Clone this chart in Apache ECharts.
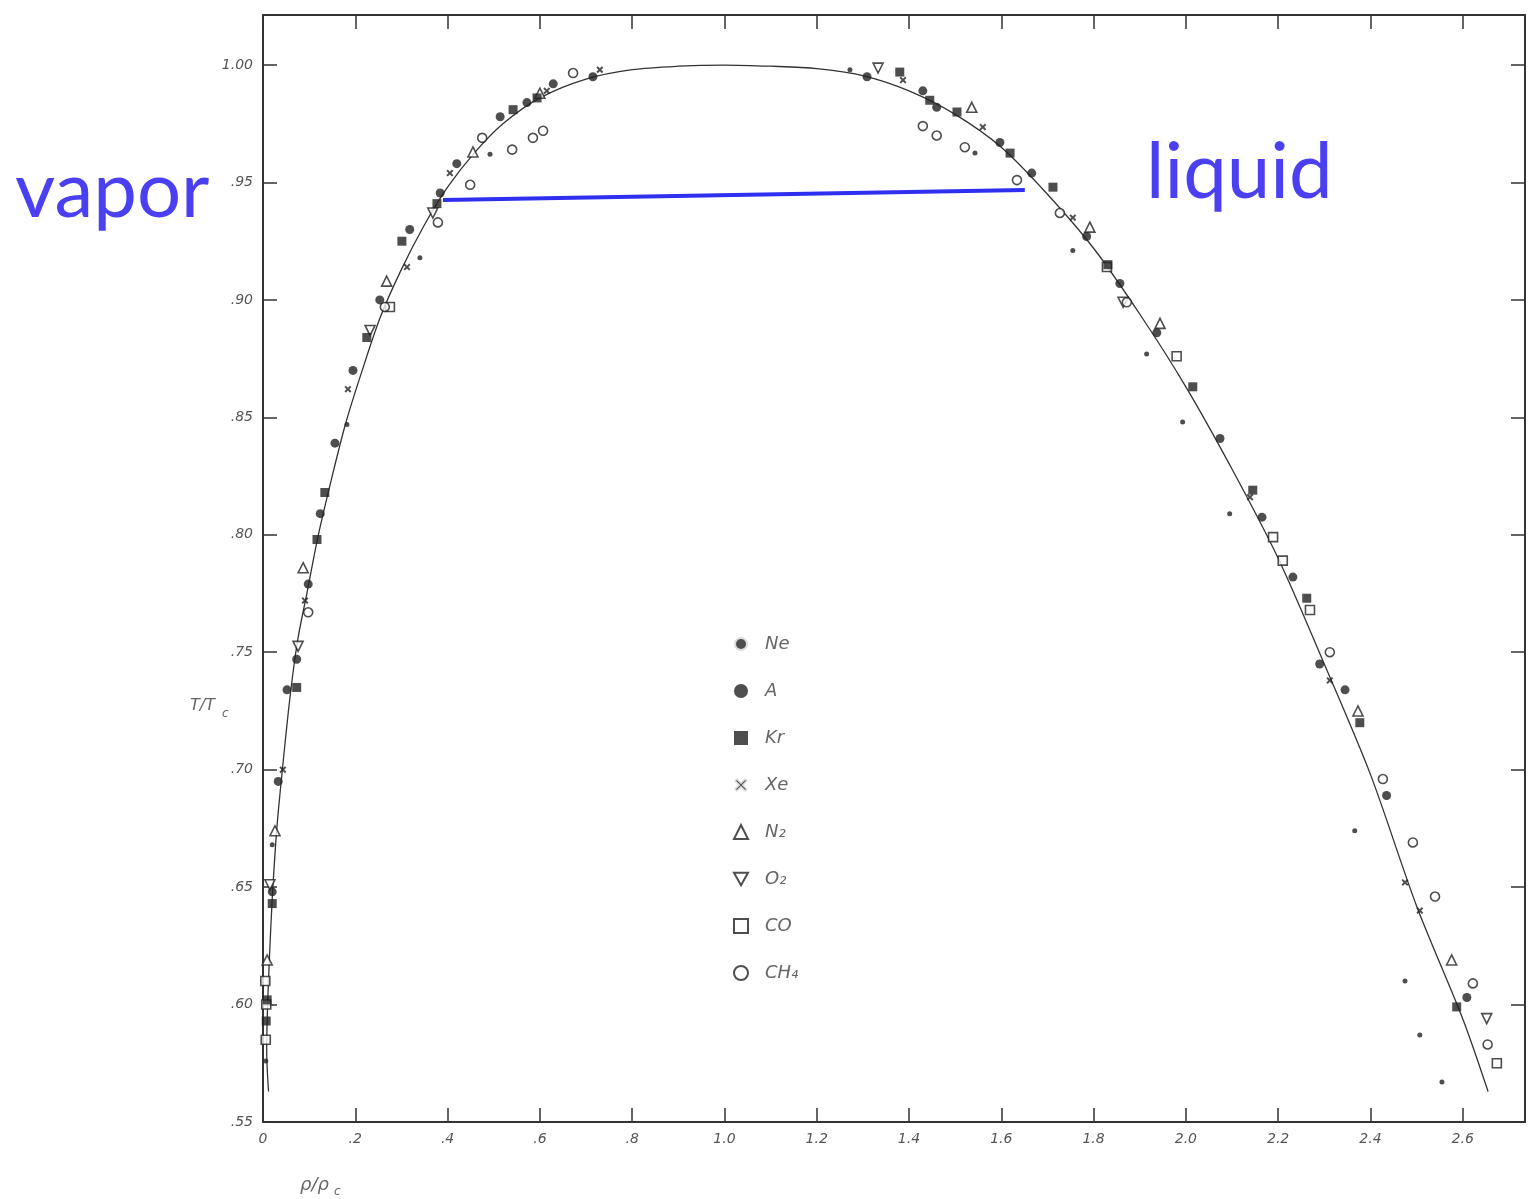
<!DOCTYPE html>
<html>
<head>
<meta charset="utf-8">
<script src="https://cdn.jsdelivr.net/npm/echarts@6/dist/echarts.min.js"></script>
<style>
  html, body { margin: 0; padding: 0; background: #fff; }
  #chart-box { width: 1529px; height: 1199px; }
</style>
</head>
<body>
<div id="chart-box"></div>
<script>
// tick labels as printed on the figure
const xTickValues = [0, 0.2, 0.4, 0.6, 0.8, 1.0, 1.2, 1.4, 1.6, 1.8, 2.0, 2.2, 2.4, 2.6];
const xTickLabels = ['0', '.2', '.4', '.6', '.8', '1.0', '1.2', '1.4', '1.6', '1.8', '2.0', '2.2', '2.4', '2.6'];
const yTickValues = [0.55, 0.60, 0.65, 0.70, 0.75, 0.80, 0.85, 0.90, 0.95, 1.00];
const yTickLabels = ['.55', '.60', '.65', '.70', '.75', '.80', '.85', '.90', '.95', '1.00'];

// legend names
const species = ['Ne', 'A', 'Kr', 'Xe', 'N₂', 'O₂', 'CO', 'CH₄'];

// measured points [rho/rho_c, T/T_c]
const neData = [[0.006, 0.576], [0.02, 0.668], [0.182, 0.847], [0.34, 0.918], [0.492, 0.962], [1.272, 0.998],
  [1.543, 0.9625], [1.755, 0.921], [1.915, 0.877], [1.993, 0.848], [2.095, 0.809], [2.366, 0.674],
  [2.475, 0.61], [2.507, 0.587], [2.555, 0.567]];
const arData = [[0.02, 0.648], [0.033, 0.695], [0.052, 0.734], [0.073, 0.747], [0.098, 0.779], [0.124, 0.809],
  [0.156, 0.839], [0.195, 0.870], [0.253, 0.900], [0.318, 0.93], [0.384, 0.9455], [0.42, 0.958],
  [0.514, 0.978], [0.572, 0.984], [0.629, 0.992], [0.715, 0.995], [1.309, 0.995], [1.43, 0.989],
  [1.46, 0.982], [1.597, 0.967], [1.666, 0.954], [1.785, 0.927], [1.857, 0.907], [1.937, 0.886],
  [2.074, 0.841], [2.165, 0.8075], [2.232, 0.782], [2.29, 0.745], [2.345, 0.734], [2.435, 0.689], [2.609, 0.603]];
const krData = [[0.007, 0.593], [0.009, 0.602], [0.02, 0.643], [0.073, 0.735], [0.117, 0.798], [0.134, 0.818],
  [0.225, 0.884], [0.301, 0.925], [0.377, 0.941], [0.542, 0.981], [0.594, 0.986], [1.38, 0.997],
  [1.445, 0.985], [1.504, 0.98], [1.619, 0.9625], [1.712, 0.948], [1.831, 0.915], [2.015, 0.863],
  [2.145, 0.819], [2.262, 0.773], [2.377, 0.72], [2.587, 0.599]];
const xeData = [[0.043, 0.70], [0.091, 0.772], [0.184, 0.862], [0.312, 0.914], [0.405, 0.954], [0.615, 0.989],
  [0.73, 0.998], [1.387, 0.9936], [1.56, 0.9736], [1.755, 0.935], [2.139, 0.816], [2.312, 0.738],
  [2.475, 0.652], [2.507, 0.64]];
const n2Data = [[0.009, 0.619], [0.026, 0.674], [0.087, 0.786], [0.268, 0.908], [0.455, 0.963], [0.60, 0.988],
  [1.536, 0.982], [1.792, 0.931], [1.944, 0.89], [2.373, 0.725], [2.576, 0.619]];
const o2Data = [[0.015, 0.651], [0.076, 0.7525], [0.232, 0.887], [0.368, 0.937], [1.333, 0.9987],
  [1.864, 0.899], [2.652, 0.594]];
const coData = [[0.005, 0.61], [0.006, 0.585], [0.007, 0.60], [0.275, 0.897], [1.829, 0.914], [1.98, 0.876],
  [2.189, 0.799], [2.21, 0.789], [2.269, 0.768], [2.674, 0.575]];
const ch4Data = [[0.098, 0.767], [0.264, 0.897], [0.379, 0.933], [0.449, 0.949], [0.475, 0.969], [0.54, 0.964],
  [0.585, 0.969], [0.607, 0.972], [0.672, 0.9966], [1.43, 0.974], [1.46, 0.97], [1.521, 0.965],
  [1.634, 0.951], [1.727, 0.937], [1.872, 0.899], [2.312, 0.75], [2.427, 0.696], [2.492, 0.669],
  [2.54, 0.646], [2.622, 0.609], [2.654, 0.583]];

// coexistence curve as drawn
const curveData = [[0.012, 0.563], [0.008, 0.58], [0.01, 0.60], [0.014, 0.62], [0.02, 0.645], [0.03, 0.675],
  [0.042, 0.70], [0.058, 0.73], [0.075, 0.755], [0.095, 0.775], [0.12, 0.80], [0.15, 0.825],
  [0.18, 0.848], [0.215, 0.87], [0.255, 0.893], [0.3, 0.913], [0.35, 0.932], [0.4, 0.948],
  [0.46, 0.963], [0.52, 0.975], [0.6, 0.986], [0.7, 0.994], [0.8, 0.998], [0.9, 0.9995], [1.0, 1.0],
  [1.1, 0.9995], [1.2, 0.9985], [1.3, 0.9955], [1.4, 0.989], [1.5, 0.979], [1.6, 0.965], [1.7, 0.945],
  [1.8, 0.922], [1.9, 0.894], [2.0, 0.863], [2.1, 0.828], [2.2, 0.79], [2.3, 0.745], [2.4, 0.698],
  [2.5, 0.642], [2.6, 0.594], [2.655, 0.563]];

// blue tie line (added annotation)
const tieLine = [[0.39, 0.9425], [1.651, 0.9468]];

const ink = '#222';
const labelFont = { color: '#555', fontStyle: 'italic', fontSize: 14, fontFamily: 'DejaVu Sans' };
const downTriangle = 'path://M0,0L10,0L5,9Z';
const crossPath = 'path://M2,0L5,3L8,0L10,2L7,5L10,8L8,10L5,7L2,10L0,8L3,5L0,2Z';

function tickFormatter(values, labels) {
  return function (v) {
    for (let i = 0; i < values.length; i++) {
      if (Math.abs(values[i] - v) < 1e-6) return labels[i];
    }
    return '';
  };
}

let chartDom = document.getElementById('chart-box');
var chart = echarts.init(chartDom);

const baseAxis = {
  axisLine: { show: true, onZero: false, lineStyle: { color: '#333', width: 2 } },
  axisTick: { show: true, inside: true, length: 14, lineStyle: { color: '#333', width: 1.5 } },
  splitLine: { show: false }
};

const openStyle = { color: '#fff', borderColor: ink, borderWidth: 1.6 };
const filledStyle = { color: ink };

// legend entries: small marks get a white border so they look smaller
const legendData = species.map(function (name) {
  if (name === 'Ne') return { name: name, itemStyle: { color: ink, borderColor: '#fff', borderWidth: 4 } };
  if (name === 'Xe') return { name: name, itemStyle: { color: ink, borderColor: '#fff', borderWidth: 3 } };
  if (name === 'O₂') return { name: name, icon: downTriangle };
  return { name: name };
});

let option = {
  animation: false,
  backgroundColor: '#fff',
  grid: { left: 263, right: 4, top: 15, bottom: 77 },
  legend: {
    orient: 'vertical',
    left: 727,
    top: 630,
    itemGap: 29,
    itemWidth: 14,
    itemHeight: 14,
    data: legendData,
    textStyle: { color: '#666', fontStyle: 'italic', fontSize: 18, fontFamily: 'DejaVu Sans', padding: [0, 0, 0, 12] }
  },
  xAxis: [
    Object.assign({}, baseAxis, {
      type: 'value', min: 0, max: 2.735, interval: 0.2, position: 'bottom',
      axisLabel: Object.assign({ margin: 10, showMaxLabel: false, formatter: tickFormatter(xTickValues, xTickLabels) }, labelFont)
    }),
    Object.assign({}, baseAxis, {
      type: 'value', min: 0, max: 2.735, interval: 0.2, position: 'top',
      axisLabel: { show: false }
    })
  ],
  yAxis: [
    Object.assign({}, baseAxis, {
      type: 'value', min: 0.55, max: 1.0213, interval: 0.05, position: 'left',
      axisLabel: Object.assign({ margin: 10, showMaxLabel: false, formatter: tickFormatter(yTickValues, yTickLabels) }, labelFont)
    }),
    Object.assign({}, baseAxis, {
      type: 'value', min: 0.55, max: 1.0213, interval: 0.05, position: 'right',
      axisLabel: { show: false }
    })
  ],
  graphic: [
    { type: 'text', left: 15, top: 153, style: { text: 'vapor', font: '78px Lato', fill: '#4b3ff2' } },
    { type: 'text', left: 1146, top: 134, style: { text: 'liquid', font: '78px Lato', fill: '#4b3ff2' } },
    { type: 'text', left: 190, top: 698, style: { text: 'T/T', font: 'italic 16px DejaVu Sans', fill: '#666' } },
    { type: 'text', left: 222, top: 708, style: { text: 'c', font: 'italic 12px DejaVu Sans', fill: '#666' } },
    { type: 'text', left: 300, top: 1176, style: { text: 'ρ/ρ', font: 'italic 18px DejaVu Sans', fill: '#666' } },
    { type: 'text', left: 334, top: 1186, style: { text: 'c', font: 'italic 12px DejaVu Sans', fill: '#666' } }
  ],
  series: [
    {
      name: 'curve', type: 'line', data: curveData, showSymbol: false, smooth: 0.3,
      lineStyle: { color: '#333', width: 1.3 }, z: 1, silent: true
    },
    { name: 'Ne', type: 'scatter', data: neData, symbol: 'circle', symbolSize: 5, itemStyle: filledStyle, z: 3 },
    { name: 'A', type: 'scatter', data: arData, symbol: 'circle', symbolSize: 9, itemStyle: filledStyle, z: 3 },
    { name: 'Kr', type: 'scatter', data: krData, symbol: 'rect', symbolSize: 9, itemStyle: filledStyle, z: 3 },
    { name: 'Xe', type: 'scatter', data: xeData, symbol: crossPath, symbolSize: 7, itemStyle: filledStyle, z: 3 },
    { name: 'N₂', type: 'scatter', data: n2Data, symbol: 'triangle', symbolSize: 10, itemStyle: openStyle, z: 2 },
    { name: 'O₂', type: 'scatter', data: o2Data, symbol: downTriangle, symbolSize: 10, itemStyle: openStyle, z: 2 },
    { name: 'CO', type: 'scatter', data: coData, symbol: 'rect', symbolSize: 9, itemStyle: openStyle, z: 2 },
    { name: 'CH₄', type: 'scatter', data: ch4Data, symbol: 'circle', symbolSize: 9, itemStyle: openStyle, z: 2 },
    {
      name: 'tie', type: 'line', data: tieLine, showSymbol: false,
      lineStyle: { color: '#2f2ff0', width: 4 }, z: 4, silent: true
    }
  ]
};
chart.setOption(option);
</script>
</body>
</html>
